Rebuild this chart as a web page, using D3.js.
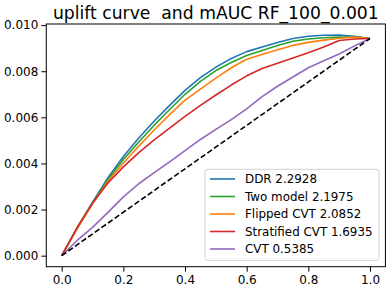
<!DOCTYPE html>
<html>
<head>
<meta charset="utf-8">
<script src="https://cdn.jsdelivr.net/npm/d3@7/dist/d3.min.js"></script>
<style>
  html, body { margin: 0; padding: 0; background: #fff; }
  svg { display: block; font-family: "DejaVu Sans", sans-serif; }
</style>
</head>
<body>
<svg id="chart" width="391" height="291"></svg>
<script>
// ---- data ----
const title = "uplift curve  and mAUC RF_100_0.001";
const xs = [0, 0.05, 0.10, 0.15, 0.20, 0.25, 0.30, 0.35, 0.40, 0.45, 0.50,
            0.55, 0.60, 0.65, 0.70, 0.75, 0.80, 0.85, 0.90, 0.95, 1.00];
const ddr = [0, 0.00120, 0.00232, 0.00338, 0.00430, 0.00510, 0.00584, 0.00652, 0.00717, 0.00772, 0.00818,
             0.00855, 0.00885, 0.00905, 0.00925, 0.00942, 0.00952, 0.00956, 0.00957, 0.00952, 0.00942];
const twoModel = [0, 0.00118, 0.00228, 0.00330, 0.00417, 0.00493, 0.00566, 0.00634, 0.00700, 0.00756, 0.00803,
                  0.00838, 0.00868, 0.00890, 0.00912, 0.00930, 0.00940, 0.00945, 0.00948, 0.00948, 0.00942];
const flippedCvt = [0, 0.00117, 0.00225, 0.00322, 0.00402, 0.00475, 0.00545, 0.00612, 0.00675, 0.00722, 0.00770,
                    0.00815, 0.00852, 0.00873, 0.00893, 0.00912, 0.00925, 0.00935, 0.00943, 0.00948, 0.00942];
const stratifiedCvt = [0, 0.00122, 0.00228, 0.00315, 0.00385, 0.00447, 0.00502, 0.00553, 0.00604, 0.00652, 0.00697,
                       0.00740, 0.00780, 0.00812, 0.00835, 0.00857, 0.00880, 0.00905, 0.00933, 0.00940, 0.00942];
const cvt = [0, 0.00066, 0.00123, 0.00188, 0.00255, 0.00312, 0.00360, 0.00407, 0.00456, 0.00504, 0.00548,
             0.00590, 0.00637, 0.00690, 0.00735, 0.00775, 0.00815, 0.00845, 0.00875, 0.00910, 0.00942];
const randomLine = [[0, 0], [1, 0.00942]];
const seriesNames = ["DDR 2.2928", "Two model 2.1975", "Flipped CVT 2.0852", "Stratified CVT 1.6935", "CVT 0.5385"];
const seriesValues = [ddr, twoModel, flippedCvt, stratifiedCvt, cvt];
const colors = ["#1f77b4", "#2ca02c", "#ff7f0e", "#d62728", "#9467bd"];
const xTicks = [0, 0.2, 0.4, 0.6, 0.8, 1.0];
const yTicks = [0, 0.002, 0.004, 0.006, 0.008, 0.010];

// ---- layout ----
const svg = d3.select("#chart");
const box = { left: 46.3, right: 385.4, top: 24.0, bottom: 266.7 };

const allY = seriesValues.flat();
const yMin = 0, yMax = d3.max(allY);
const yPad = (yMax - yMin) * 0.05;
const x = d3.scaleLinear().domain([-0.05, 1.05]).range([box.left, box.right]);
const y = d3.scaleLinear().domain([yMin - yPad, yMax + yPad]).range([box.bottom, box.top]);

// axes
const xAxis = d3.axisBottom(x).tickValues(xTicks).tickFormat(d3.format(".1f"))
  .tickSize(5).tickPadding(4);
const yAxis = d3.axisLeft(y).tickValues(yTicks).tickFormat(d3.format(".3f"))
  .tickSize(5).tickPadding(3);

const gx = svg.append("g").attr("transform", `translate(0,${box.bottom})`).call(xAxis);
const gy = svg.append("g").attr("transform", `translate(${box.left},0)`).call(yAxis);
[gx, gy].forEach(g => {
  g.select(".domain").remove();
  g.selectAll(".tick line").attr("stroke", "#000").attr("stroke-width", 1);
  g.selectAll(".tick text").attr("fill", "#000").style("font-size", "12px")
    .style("font-family", "DejaVu Sans, sans-serif");
});

// frame
svg.append("rect")
  .attr("x", box.left).attr("y", box.top)
  .attr("width", box.right - box.left).attr("height", box.bottom - box.top)
  .attr("fill", "none").attr("stroke", "#000").attr("stroke-width", 1);

// lines
const line = d3.line().x(d => x(d[0])).y(d => y(d[1]));
seriesValues.forEach((vals, i) => {
  svg.append("path")
    .datum(xs.map((xv, j) => [xv, vals[j]]))
    .attr("d", line)
    .attr("fill", "none")
    .attr("stroke", colors[i])
    .attr("stroke-width", 1.6)
    .attr("stroke-linejoin", "round");
});
svg.append("path")
  .datum(randomLine)
  .attr("d", line)
  .attr("fill", "none")
  .attr("stroke", "#000")
  .attr("stroke-width", 1.6)
  .attr("stroke-dasharray", "5.5,2.6");

// title
svg.append("text")
  .attr("x", (box.left + box.right) / 2).attr("y", 18.5)
  .attr("text-anchor", "middle")
  .attr("xml:space", "preserve")
  .style("white-space", "pre")
  .style("font-size", "17.2px")
  .attr("fill", "#000")
  .text(title);

// legend
const lg = svg.append("g");
lg.append("rect")
  .attr("x", 205).attr("y", 169.3).attr("width", 174).attr("height", 91)
  .attr("rx", 3).attr("ry", 3)
  .attr("fill", "#fff").attr("fill-opacity", 0.8)
  .attr("stroke", "#d0d0d0").attr("stroke-width", 1);
seriesNames.forEach((name, i) => {
  const cy = 179 + i * 17.5;
  lg.append("line").attr("x1", 210).attr("x2", 235).attr("y1", cy).attr("y2", cy)
    .attr("stroke", colors[i]).attr("stroke-width", 1.6);
  lg.append("text").attr("x", 245).attr("y", cy).attr("dy", "0.36em")
    .style("font-size", "11.9px").attr("fill", "#000").text(name);
});
</script>
</body>
</html>
